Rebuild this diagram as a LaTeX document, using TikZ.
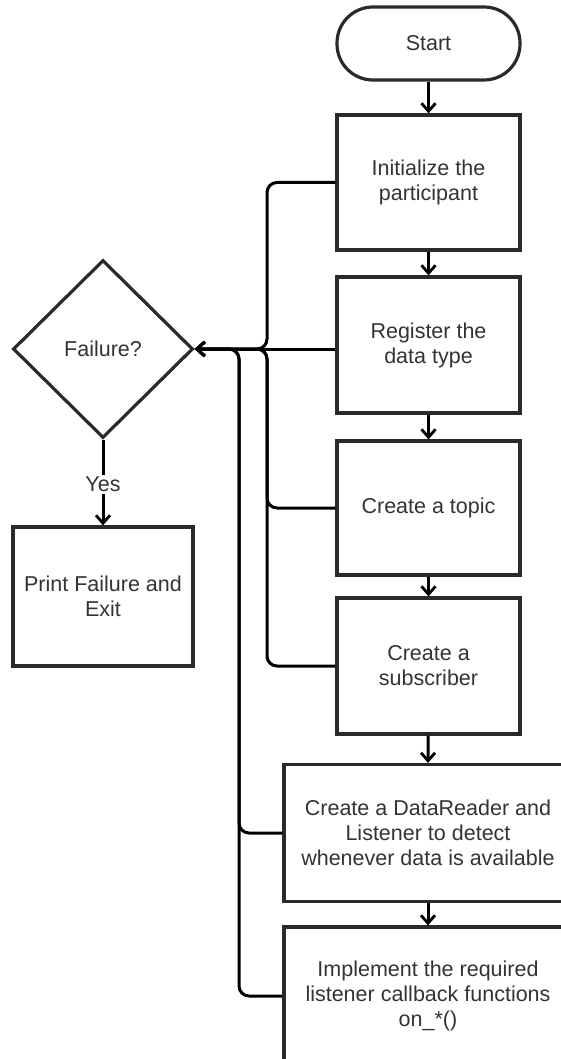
\documentclass[tikz,border=0pt]{standalone}
\usepackage{fontspec}
\setmainfont{Liberation Sans}
\usetikzlibrary{shapes.geometric,arrows.meta}
\definecolor{txt}{HTML}{333333}
\definecolor{ln}{HTML}{2a2a2a}
\begin{document}
\begin{tikzpicture}[x=1pt,y=-1pt,
  every node/.style={font=\fontsize{21.5}{25}\selectfont, text=txt, align=center},
  box/.style={draw=ln, line width=3.2pt, minimum width=183pt, minimum height=135pt, inner sep=0pt},
  widebox/.style={box, minimum width=288pt, minimum height=137pt},
  conn/.style={draw=black, line width=3pt, -{Straight Barb[length=8pt,width=14pt,line width=2.8pt]}},
  loop/.style={conn, rounded corners=10pt}]
\useasboundingbox (0,0) rectangle (561,1059);
\clip (0,0) rectangle (561,1059);
\node[draw=ln, line width=3.2pt, minimum width=183pt, minimum height=73pt, rounded corners=36pt, inner sep=0pt] (start) at (428.5,43.5) {Start};
\node[box] (b1) at (428.5,182.5) {Initialize the\\participant};
\node[box, minimum height=136pt] (b2) at (428.5,345) {Register the\\data type};
\node[box, minimum height=134pt] (b3) at (428.5,508) {Create a topic};
\node[box, minimum height=136pt] (b4) at (428.5,666) {Create a\\subscriber};
\node[widebox] (b5) at (428,833) {Create a DataReader and\\Listener to detect\\whenever data is available};
\node[widebox, minimum height=138pt] (b6) at (428,996) {Implement the required\\listener callback functions\\on\_*()};
\node[draw=ln, line width=3.2pt, diamond, aspect=1, minimum width=180pt, minimum height=178pt, inner sep=0pt] (d) at (103,349) {Failure?};
\node[box, minimum width=180pt, minimum height=139pt] (p) at (103,596.5) {Print Failure and\\Exit};
\coordinate (j1) at (267,349);
\coordinate (j2) at (239,349);
\draw[conn] (start) -- (b1);
\draw[conn] (b1) -- (b2);
\draw[conn] (b2) -- (b3);
\draw[conn] (b3) -- (b4);
\draw[conn] (b4) -- (b5.north);
\draw[conn] (b5) -- (b6);
\draw[loop] (b1.west) -| (j1) -- (d.east);
\draw[conn] (b2.west |- d.east) -- (d.east);
\draw[loop] (b3.west) -| (j1) -- (d.east);
\draw[loop] (b4.west) -| (j1) -- (d.east);
\draw[loop] (b5.west) -| (j2) -- (d.east);
\draw[loop] (b6.west) -| (j2) -- (d.east);
\draw[conn] (d.south) -- node[fill=white, inner sep=2pt, pos=0.52] {Yes} (p.north);
\end{tikzpicture}
\end{document}
